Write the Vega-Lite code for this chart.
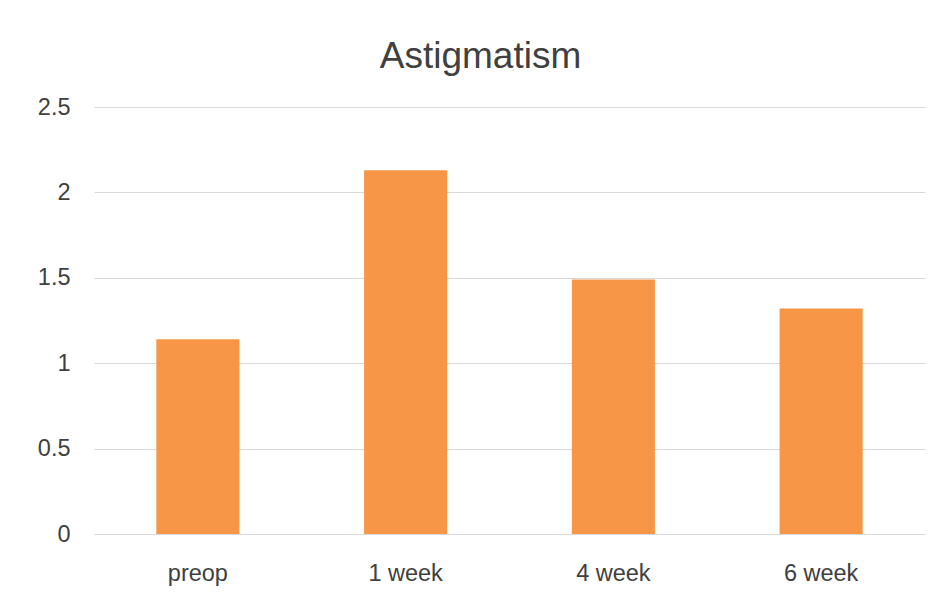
{
  "$schema": "https://vega.github.io/schema/vega-lite/v6.json",
  "autosize": {"type": "none"},
  "padding": {"left": 94, "top": 107, "right": 17, "bottom": 73},
  "width": 831,
  "height": 427,
  "background": "white",
  "title": {
    "text": "Astigmatism",
    "font": "Liberation Sans",
    "fontSize": 37,
    "fontWeight": "normal",
    "color": "#404040",
    "anchor": "middle",
    "baseline": "alphabetic",
    "dx": -29,
    "offset": -10
  },
  "data": {
    "values": [
      {"period": "preop", "value": 1.14},
      {"period": "1 week", "value": 2.13},
      {"period": "4 week", "value": 1.49},
      {"period": "6 week", "value": 1.32}
    ]
  },
  "mark": {"type": "bar", "color": "#F79646"},
  "encoding": {
    "x": {
      "field": "period",
      "type": "nominal",
      "sort": null,
      "scale": {"paddingInner": 0.6, "paddingOuter": 0.3},
      "axis": {
        "title": null,
        "labelAngle": 0,
        "labelFont": "Liberation Sans",
        "labelFontSize": 23.5,
        "labelColor": "#404040",
        "labelPadding": 27,
        "ticks": false,
        "domainColor": "#d9d9d9",
        "domainWidth": 1,
        "grid": false
      }
    },
    "y": {
      "field": "value",
      "type": "quantitative",
      "scale": {"domain": [0, 2.5], "nice": false},
      "axis": {
        "title": null,
        "values": [0, 0.5, 1, 1.5, 2, 2.5],
        "format": "~g",
        "labelFont": "Liberation Sans",
        "labelFontSize": 23.5,
        "labelColor": "#404040",
        "labelPadding": 24,
        "ticks": false,
        "domain": false,
        "grid": true,
        "gridColor": "#d9d9d9",
        "gridWidth": 1
      }
    }
  },
  "config": {
    "view": {"stroke": null}
  }
}
